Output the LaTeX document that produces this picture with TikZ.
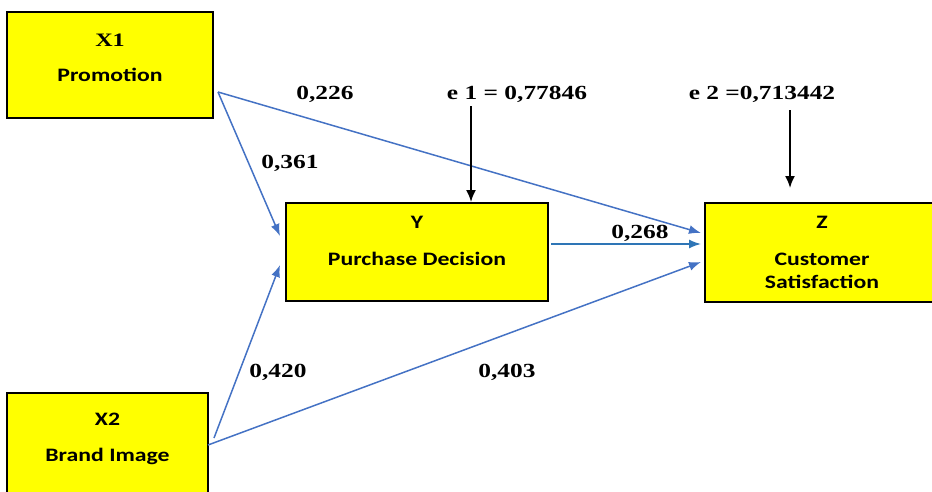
\documentclass[tikz,border=0pt]{standalone}
\usepackage{fontspec}
\setmainfont{Liberation Serif}[FakeStretch=1.27]
\newfontfamily\boxfont{Carlito}[FakeStretch=1.25]
\usetikzlibrary{arrows.meta}
\definecolor{pathblue}{HTML}{4472C4}
\definecolor{midblue}{HTML}{2E75B6}
\definecolor{boxyellow}{HTML}{FFFF00}
\tikzset{
  varbox/.style={draw=black,line width=1.5pt,fill=boxyellow,inner sep=0pt},
  varcode/.style={font=\fontsize{19}{21}\selectfont\bfseries},
  varname/.style={font=\boxfont\fontsize{19}{22}\selectfont\bfseries},
  coef/.style={font=\fontsize{20}{22}\selectfont\bfseries},
  pathline/.style={draw=pathblue,line width=1.5pt,-{Latex[length=12pt,width=9pt]}},
  errline/.style={draw=black,line width=1.8pt,-{Latex[length=12pt,width=10pt]}}
}
\begin{document}
\begin{tikzpicture}[x=1pt,y=-1pt]
\useasboundingbox (0,0) rectangle (932,491);
\clip (0,0) rectangle (932,491);

\node[varbox,minimum width=206pt,minimum height=106pt] (x1) at (110,65) {};
\node[varbox,minimum width=201pt,minimum height=106pt] (x2) at (107.5,446) {};
\node[varbox,minimum width=262pt,minimum height=98pt] (y) at (417,252) {};
\node[varbox,minimum width=234pt,minimum height=99pt] (z) at (822,252.5) {};

\node[varcode] (x1a) at (110,40) {X1};
\node[varname] (x1b) at (110,75) {Promotion};
\node[varname] (x2a) at (107.5,419) {X2};
\node[varname] (x2b) at (107.5,456) {Brand Image};
\node[varname] (ya) at (417,222) {Y};
\node[varname] (yb) at (417,259) {Purchase Decision};
\node[varname] (za) at (822,222) {Z};
\node[varname] (zb) at (822,259) {Customer};
\node[varname] (zc) at (822,282) {Satisfaction};

\coordinate (x1o) at (218,92);
\coordinate (x2o) at (214,438);
\coordinate (x2p) at (208,445);
\coordinate (yo) at (551,244);
\coordinate (yi1) at (280,236);
\coordinate (yi2) at (280,265);
\coordinate (zi1) at (701,233);
\coordinate (zi2) at (701,244);
\coordinate (zi3) at (701,262);

\draw[pathline] (x1o) -- (zi1);
\draw[pathline] (x1o) -- (yi1);
\draw[pathline] (x2o) -- (yi2);
\draw[pathline] (x2p) -- (zi3);
\draw[pathline,draw=midblue] (yo) -- (zi2);

\node[coef] (b1) at (325,94) {0,226};
\node[coef] (b2) at (290,163) {0,361};
\node[coef] (b3) at (278,372) {0,420};
\node[coef] (b4) at (507,372) {0,403};
\node[coef] (b5) at (640,233) {0,268};

\node[coef] (e1) at (517,94) {e 1 = 0,77846};
\node[coef] (e2) at (762,94) {e 2 =0,713442};
\coordinate (e1o) at (471,106);
\coordinate (e1i) at (471,202);
\coordinate (e2o) at (790,110);
\coordinate (e2i) at (790,188);
\draw[errline] (e1o) -- (e1i);
\draw[errline] (e2o) -- (e2i);

\end{tikzpicture}
\end{document}
